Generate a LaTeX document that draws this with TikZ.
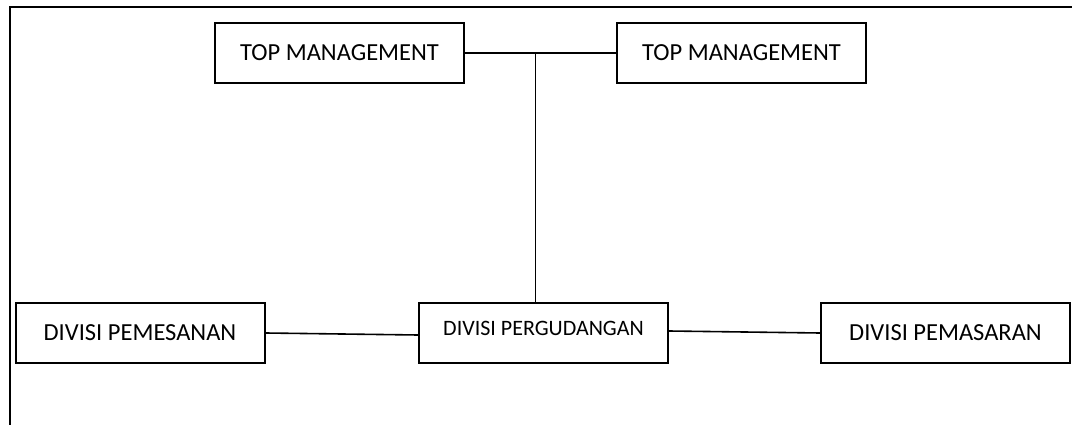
\documentclass[tikz,border=0pt]{standalone}
\usepackage{fontspec}
\setmainfont{Carlito}
\begin{document}
\begin{tikzpicture}[x=1pt,y=-1pt,
    unit/.style={draw,line width=2pt,rectangle,minimum width=249pt,minimum height=60pt,inner sep=0pt,font=\fontsize{24.5}{28}\selectfont},
    link/.style={line width=1.6pt}]
    \useasboundingbox (0,0) rectangle (1072,425);
    \draw[line width=2pt] (1072,7) -- (10,7) -- (10,425);

    \node[unit] (topa) at (339.5,53) {TOP MANAGEMENT};
    \node[unit] (topb) at (741.5,53) {TOP MANAGEMENT};

    \node[unit] (pesan) at (140,333) {DIVISI PEMESANAN};
    \node[unit,font=\fontsize{22}{26}\selectfont,text depth=10pt] (gudang) at (543.5,333) {DIVISI PERGUDANGAN};
    \node[unit] (pasar) at (945.5,333) {DIVISI PEMASARAN};

    \coordinate (joint) at (535.5,53);
    \draw[link] (topa) -- (topb);
    \draw[link] (joint) -- (joint |- gudang.north);
    \draw[link] (pesan.east) -- ([yshift=-2pt]gudang.west);
    \draw[link] ([yshift=2pt]gudang.east) -- (pasar.west);
\end{tikzpicture}
\end{document}
